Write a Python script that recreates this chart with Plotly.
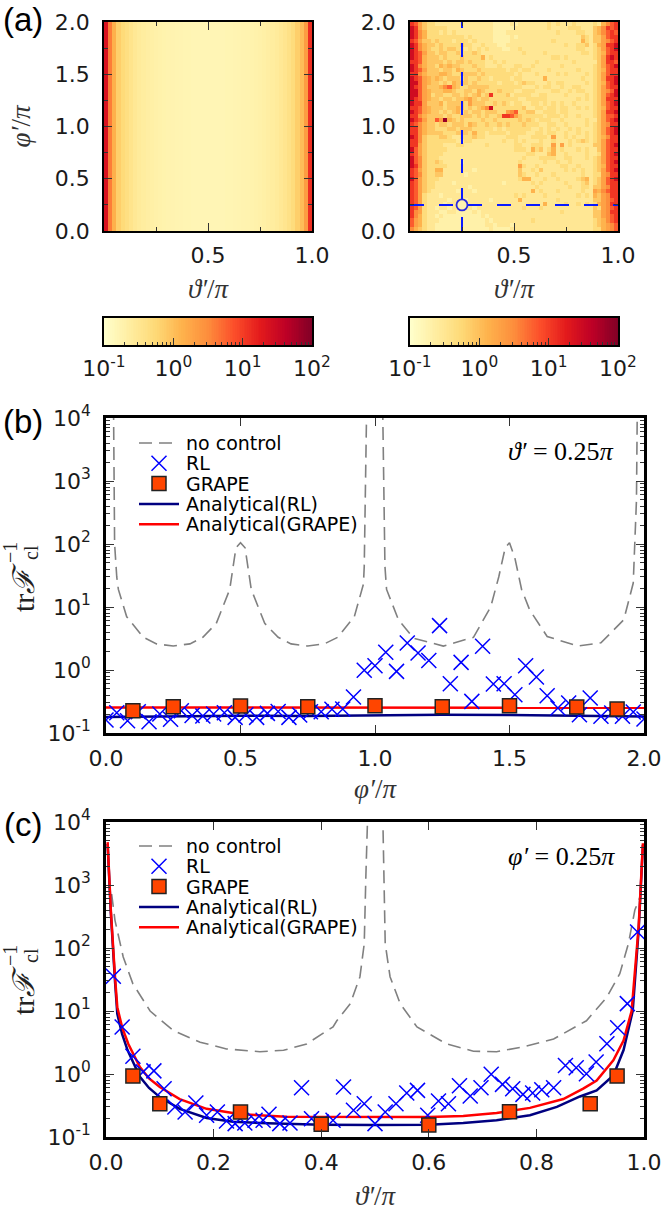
import plotly.graph_objects as go

W, H = 664, 1213

# ---- panel (a): log10 of trF^-1
left_profile = [1.35, 0.6, 0.15, -0.15, -0.28, -0.36, -0.45, -0.53, -0.58, -0.62,
                -0.65, -0.68, -0.7, -0.72, -0.74, -0.75, -0.76, -0.77, -0.78, -0.79,
                -0.79, -0.8, -0.8, -0.8, -0.8, -0.8, -0.8, -0.8, -0.8, -0.79,
                -0.79, -0.78, -0.77, -0.76, -0.75, -0.74, -0.72, -0.7, -0.68, -0.65,
                -0.62, -0.58, -0.53, -0.47, -0.4, -0.3, -0.15, 0.02, 0.35, 1.1]

# one digit per cell, top row is phi'=2, see level_log for the meaning
right_rows = [
    "87532 21111 11111 11111 00001 01111 11121 21112 11112 14678",
    "98532 22221 11111 11111 00000 11111 11121 11122 21113 46878",
    "98642 22121 21111 11111 00011 11111 11111 21111 22113 46787",
    "98642 22222 22212 11111 00001 01111 11111 11111 13213 35788",
    "87533 23222 12221 21111 00001 11111 11112 11111 14213 35678",
    "98643 32322 22322 11211 10011 11111 11111 11211 22312 45889",
    "98643 22323 32212 12121 11001 12111 11111 11111 22112 35789",
    "98753 32332 23222 32111 11111 11211 11211 11111 12212 34788",
    "98743 33232 22322 22412 11111 11111 11112 21211 11112 35898",
    "88743 33323 23323 22211 21211 11111 21111 11112 11111 35887",
    "98643 32434 33222 32211 12111 22112 11111 12111 11112 35789",
    "98753 33233 24322 23222 22212 21221 11121 11111 21112 34788",
    "88643 33443 22333 32322 22222 12111 21111 21211 11212 35788",
    "98754 34323 33232 23221 22221 22111 11411 11111 12112 35889",
    "99754 33232 43332 32222 21222 12322 11121 22111 11212 34789",
    "98753 33467 43223 33332 22222 22111 21221 12112 21112 35788",
    "99754 33344 32233 24322 23222 11222 11112 21121 22112 35679",
    "99754 23322 33232 34238 22231 22221 12211 11211 11212 35789",
    "98754 33233 23345 32332 22222 21122 22211 11111 21212 35888",
    "98853 33423 33325 33322 32321 22112 21212 12112 11112 35789",
    "88754 33323 34323 23469 22222 22311 22122 12211 21212 34788",
    "98754 33232 34232 33233 32256 72233 11222 12211 11112 35889",
    "88643 33323 22333 23232 23887 53222 22122 21211 21112 35778",
    "98753 375a4 32322 22322 32222 23232 12221 12111 11211 35789",
    "87643 32332 33324 32232 23232 22322 21122 11211 11212 35688",
    "88643 32223 32333 22222 12122 22221 12121 21121 21112 35789",
    "88643 33322 23332 42212 22212 22211 22122 11211 21212 35789",
    "98632 22332 11222 32211 11122 21112 22215 11212 11212 34688",
    "88632 22222 21122 11111 11211 21211 12112 11121 23212 35788",
    "88532 22211 12211 11121 11111 22112 22115 15121 11113 35789",
    "97532 22221 11111 11111 11111 22214 23124 12111 21211 35788",
    "87532 22211 11111 11111 11111 11122 11134 11211 11211 25789",
    "97632 22111 11111 11111 11111 11211 12222 11221 11212 35788",
    "97632 23211 11011 11111 11111 12111 11211 21121 11112 35789",
    "98632 22221 11111 11111 11111 15211 21111 12211 21112 34788",
    "87532 24411 11111 01111 11111 13112 13111 11212 12112 35789",
    "87632 23311 11101 11111 11111 13211 21112 11111 12112 25688",
    "97532 22111 11111 11111 11111 12441 11211 21111 23412 35789",
    "87532 21111 01111 11111 11011 11112 12111 11211 12312 35788",
    "87532 21111 11110 11111 11111 11111 21111 11121 12213 35688",
    "87532 11111 10111 01111 11111 11114 12111 21111 12115 46788",
    "87521 11011 11111 11111 11111 21211 11211 11111 21214 35688",
    "87521 11110 11101 11110 11111 14111 11111 21111 11113 35678",
    "87521 11101 11111 11111 11111 11111 11411 11211 21212 45688",
    "87521 10110 11011 01111 11111 11211 12111 11111 11113 25678",
    "86521 11001 10000 10111 11111 11111 11111 12111 11113 35688",
    "86421 10100 00000 00101 11111 11111 11111 11111 11113 35678",
    "75421 11000 00000 00010 11111 11112 11111 11111 11112 34678",
    "75421 10000 00000 00011 01110 11111 11111 11111 11112 34567",
    "64321 10000 00000 00001 00001 11111 11111 11111 11112 24567",
]
level_log = [-0.7, -0.52, -0.3, -0.08, 0.12, 0.3, 0.5, 0.8, 1.05, 1.45, 1.85]

guide_at = [0.25]

# ---- panel (b)
b_nc_x = [0.028, 0.03, 0.032, 0.04, 0.046, 0.077, 0.139, 0.188, 0.25, 0.312, 0.36, 0.41, 0.46, 0.483, 0.5,
          0.517, 0.54, 0.59, 0.64, 0.688, 0.75, 0.812, 0.861, 0.923, 0.957, 0.96, 0.966, 0.969, None,
          1.0285, 1.032, 1.037, 1.043, 1.087, 1.143, 1.254, 1.366, 1.43, 1.46, 1.484, 1.5,
          1.52, 1.545, 1.575, 1.64, 1.755, 1.84, 1.925, 1.96, 1.972, 1.975]
b_nc_y = [15000, 1000, 100, 30, 19, 7, 3.3, 2.6, 2.4, 2.6, 3.3, 5.5, 19, 87, 105,
          87, 19, 5.5, 3.3, 2.6, 2.4, 2.6, 3.3, 7, 23, 44, 1000, 15000, None,
          15000, 1000, 44, 19, 6.3, 3.2, 2.4, 3.3, 10, 30, 87, 105,
          60, 19, 9, 3.4, 2.4, 2.7, 6.3, 24, 500, 14000]

b_rl_x = [0.0, 0.04, 0.08, 0.12, 0.16, 0.2, 0.24, 0.28, 0.32, 0.36, 0.4, 0.44, 0.48, 0.52, 0.56,
          0.6, 0.64, 0.68, 0.72, 0.76, 0.8, 0.84, 0.88, 0.92, 0.96, 1.0, 1.04, 1.08, 1.12, 1.16,
          1.2, 1.24, 1.28, 1.32, 1.36, 1.4, 1.44, 1.48, 1.52, 1.56, 1.6, 1.64, 1.68, 1.72, 1.76,
          1.8, 1.84, 1.88, 1.92, 1.96, 2.0]
b_rl_y = [0.161, 0.21, 0.157, 0.218, 0.151, 0.2, 0.165, 0.226, 0.19, 0.186, 0.2, 0.21, 0.177, 0.195, 0.177,
          0.205, 0.22, 0.177, 0.193, 0.218, 0.218, 0.238, 0.24, 0.372, 0.99, 1.17, 1.91, 0.95, 2.69, 1.86,
          1.42, 5.06, 0.607, 1.32, 0.318, 2.38, 0.6, 0.607, 0.406, 1.17, 0.774, 0.39, 0.25, 0.3, 0.195,
          0.36, 0.184, 0.207, 0.184, 0.215, 0.167]

b_grape_x = [0.1, 0.25, 0.5, 0.75, 1.0, 1.25, 1.5, 1.75, 1.9]
b_grape_y = [0.226, 0.262, 0.268, 0.262, 0.27, 0.262, 0.27, 0.259, 0.24]

b_line_x = [0.0, 0.25, 0.5, 0.75, 1.0, 1.25, 1.5, 1.75, 2.0]
b_ana_rl = [0.18, 0.186, 0.188, 0.186, 0.19, 0.195, 0.193, 0.187, 0.183]
b_ana_grape = [0.255, 0.255, 0.252, 0.25, 0.252, 0.255, 0.252, 0.25, 0.252]

# ---- panel (c)
c_nc_x = [0.0105, 0.0167, 0.032, 0.05, 0.082, 0.125, 0.175, 0.224, 0.286, 0.33, 0.373, 0.422, 0.429, 0.454,
          0.472, 0.48, 0.483, 0.486, None, 0.515, 0.519, 0.528, 0.547, 0.578, 0.633, 0.683, 0.726, 0.776,
          0.832, 0.893, 0.931, 0.955, 0.971, 0.983, 0.992]
c_nc_y = [720, 275, 72, 27, 10, 4.9, 3.2, 2.5, 2.26, 2.38, 3.0, 5.6, 7, 13,
          35, 117, 1350, 10000, None, 7400, 117, 35, 13, 5.6, 3.0, 2.3, 2.26, 2.7,
          3.6, 7, 16.6, 39, 117, 400, 630]

c_rl_x = [0.0136, 0.03, 0.05, 0.069, 0.089, 0.108, 0.128, 0.147, 0.167, 0.187, 0.207, 0.224, 0.24, 0.258,
          0.277, 0.292, 0.303, 0.323, 0.342, 0.3635, 0.382, 0.40, 0.422, 0.4415, 0.46, 0.48, 0.5, 0.519,
          0.539, 0.559, 0.579, 0.598, 0.618, 0.6365, 0.657, 0.677, 0.697, 0.716, 0.737, 0.756, 0.775, 0.793,
          0.81, 0.832, 0.854, 0.874, 0.893, 0.911, 0.931, 0.951, 0.969, 0.988]
c_rl_y = [35.5, 5.57, 1.91, 1.08, 1.12, 0.585, 0.3, 0.249, 0.347, 0.221, 0.249, 0.179, 0.163, 0.167,
          0.184, 0.184, 0.229, 0.163, 0.167, 0.607, 0.195, 0.173, 0.184, 0.622, 0.265, 0.338, 0.163, 0.249,
          0.338, 0.5, 0.55, 0.221, 0.373, 0.338, 0.653, 0.448, 0.607, 0.989, 0.685, 0.585, 0.475, 0.5,
          0.564, 0.607, 1.36, 1.26, 1.01, 1.55, 3.03, 5.43, 13.1, 179]

c_grape_x = [0.05, 0.1, 0.25, 0.4, 0.6, 0.75, 0.9, 0.95]
c_grape_y = [0.93, 0.338, 0.249, 0.159, 0.155, 0.252, 0.338, 0.93]

c_red_x = [0.003, 0.009, 0.0167, 0.021, 0.03, 0.0415, 0.063, 0.08, 0.1, 0.137, 0.187, 0.25, 0.335, 0.42, 0.5, 0.6,
           0.664, 0.726, 0.788, 0.85, 0.887, 0.912, 0.943, 0.962, 0.977, 0.99, 0.998]
c_red_y = [4800, 400, 35, 11.5, 5.5, 3, 1.29, 0.85, 0.62, 0.4, 0.28, 0.23, 0.21, 0.208, 0.205, 0.208,
           0.215, 0.24, 0.29, 0.4, 0.585, 0.79, 1.65, 3.4, 10, 215, 4600]
c_navy_x = [0.003, 0.009, 0.0167, 0.021, 0.03, 0.04, 0.063, 0.08, 0.1, 0.137, 0.187, 0.236, 0.3, 0.4, 0.5, 0.6,
            0.664, 0.726, 0.788, 0.838, 0.881, 0.912, 0.943, 0.962, 0.979, 0.99, 0.998]
c_navy_y = [4500, 360, 30, 9, 4.3, 2.4, 0.9, 0.6, 0.43, 0.28, 0.2, 0.175, 0.165, 0.157, 0.155, 0.157,
            0.167, 0.184, 0.221, 0.3, 0.44, 0.55, 0.95, 2.4, 10, 190, 4300]

cbar_major = [-1, 0, 1, 2]
cbar_major_text = ["10<sup>-1</sup>", "10<sup>0</sup>", "10<sup>1</sup>", "10<sup>2</sup>"]
cbar_minor = [-0.699, -0.523, -0.398, -0.301, -0.222, -0.155, -0.097, -0.046,
              0.301, 0.477, 0.602, 0.699, 0.778, 0.845, 0.903, 0.954,
              1.301, 1.477, 1.602, 1.699, 1.778, 1.845, 1.903, 1.954]

log_major = [0.1, 1, 10, 100, 1000, 10000]
log_major_text = ["10<sup>-1</sup>", "10<sup>0</sup>", "10<sup>1</sup>", "10<sup>2</sup>", "10<sup>3</sup>", "10<sup>4</sup>"]
log_minor = [m * d for d in [0.1, 1, 10, 100, 1000] for m in [2, 3, 4, 5, 6, 7, 8, 9]]

legend_names = ["no control", "RL", "GRAPE", "Analytical(RL)", "Analytical(GRAPE)"]

ylorrd = [[0.0, "#ffffcc"], [0.125, "#ffeda0"], [0.25, "#fed976"], [0.375, "#feb24c"], [0.5, "#fd8d3c"],
          [0.625, "#fc4e2a"], [0.75, "#e31a1c"], [0.875, "#bd0026"], [1.0, "#800026"]]

SANS = "DejaVu Sans"
SERIF = "Liberation Serif"
TICK = "#1a1a1a"

nc_line = dict(color="#808080", width=1.6, dash="13px,7px")
navy_line = dict(color="#000080", width=2.5)
red_line = dict(color="#ff0000", width=2.5)
rl_marker = dict(symbol="x-thin", size=15, color="#0000ff", line=dict(color="#0000ff", width=1.5))
grape_marker = dict(symbol="square", size=14, color="#ff4500", line=dict(color="#222222", width=1.5))


def dom_x(a, b):
    return [a / W, b / W]


def dom_y(top, bottom):
    return [1 - bottom / H, 1 - top / H]


fig = go.Figure()

col_x = [(i + 0.5) / 50 for i in range(50)]
row_y = [2 - (i + 0.5) * 0.04 for i in range(50)]

fig.add_trace(go.Heatmap(z=[left_profile, left_profile], x=col_x, y=[0.5, 1.5], zmin=-1, zmax=2,
                         colorscale=ylorrd, showscale=False, xaxis="x", yaxis="y"))

right_z = [[level_log[int(c, 16)] for c in r.replace(" ", "")] for r in right_rows]
fig.add_trace(go.Heatmap(z=right_z, x=col_x, y=row_y, zmin=-1, zmax=2,
                         colorscale=ylorrd, showscale=False, xaxis="x2", yaxis="y2"))

guide = dict(color="#0a1aff", width=2, dash="14px,15px")
fig.add_trace(go.Scatter(x=[0, 1], y=guide_at * 2, mode="lines", line=guide, xaxis="x2", yaxis="y2"))
fig.add_trace(go.Scatter(x=guide_at * 2, y=[0, 2], mode="lines", line=guide, xaxis="x2", yaxis="y2"))
fig.add_trace(go.Scatter(x=guide_at, y=guide_at, mode="markers", xaxis="x2", yaxis="y2",
                         marker=dict(symbol="circle", size=11, color="#fff3b0", line=dict(color="#2a2ae0", width=1.8))))

# colour bars are drawn as their own little axes so major and minor ticks can differ
cbar_ramp = [i * 0.025 - 1 for i in range(121)]
for xa, ya in [("x5", "y5"), ("x6", "y6")]:
    fig.add_trace(go.Heatmap(z=[cbar_ramp], x=cbar_ramp, y=[0.5], zmin=-1, zmax=2, colorscale=ylorrd,
                             showscale=False, xaxis=xa, yaxis=ya))


def add_panel(xa, ya, nc, rl, grape, navy, red):
    shared = dict(xaxis=xa, yaxis=ya)
    fig.add_trace(go.Scatter(x=nc[0], y=nc[1], mode="lines", name=legend_names[0], line=nc_line, **shared))
    fig.add_trace(go.Scatter(x=navy[0], y=navy[1], mode="lines", name=legend_names[3], line=navy_line, **shared))
    fig.add_trace(go.Scatter(x=red[0], y=red[1], mode="lines", name=legend_names[4], line=red_line, **shared))
    fig.add_trace(go.Scatter(x=rl[0], y=rl[1], mode="markers", name=legend_names[1], marker=rl_marker, **shared))
    fig.add_trace(go.Scatter(x=grape[0], y=grape[1], mode="markers", name=legend_names[2], marker=grape_marker, **shared))


add_panel("x3", "y3", (b_nc_x, b_nc_y), (b_rl_x, b_rl_y), (b_grape_x, b_grape_y),
          (b_line_x, b_ana_rl), (b_line_x, b_ana_grape))
add_panel("x4", "y4", (c_nc_x, c_nc_y), (c_rl_x, c_rl_y), (c_grape_x, c_grape_y),
          (c_navy_x, c_navy_y), (c_red_x, c_red_y))


def map_axis(domain, rng, major, text, minor, title=None, anchor=None, width=1.6, gap=4, title_gap=12):
    ax = dict(domain=domain, range=rng, anchor=anchor, showgrid=False, zeroline=False, showline=True, linecolor="black",
              linewidth=width, mirror="ticks", ticks="inside", ticklen=8, tickwidth=1, tickcolor="#333333",
              tickmode="array", tickvals=major, ticktext=text, ticklabelstandoff=gap,
              tickfont=dict(family=SANS, size=22, color=TICK),
              minor=dict(ticks="inside", ticklen=4, tickvals=minor, tickcolor="#333333", showgrid=False))
    if title:
        ax["title"] = dict(text=title, font=dict(family=SERIF, size=27, color="#333333"), standoff=title_gap)
    return ax


a_x_major = [0.5, 1.0]
a_y_major = [0.0, 0.5, 1.0, 1.5, 2.0]
fmt = lambda vals: ["%.1f" % v for v in vals]
theta_t = "<i>ϑ′</i>/<i>π</i>"
phi_t = "<i>φ′</i>/<i>π</i>"

fig.update_layout(
    xaxis=map_axis(dom_x(104, 312), [0, 1], a_x_major, fmt(a_x_major), [0.25, 0.75], theta_t, "y"),
    yaxis=map_axis(dom_y(22, 231), [0, 2], a_y_major, fmt(a_y_major), [0.25, 0.75, 1.25, 1.75], phi_t, "x", gap=8, title_gap=16),
    xaxis2=map_axis(dom_x(410, 618), [0, 1], a_x_major, fmt(a_x_major), [0.25, 0.75], theta_t, "y2"),
    yaxis2=map_axis(dom_y(22, 231), [0, 2], a_y_major, fmt(a_y_major), [0.25, 0.75, 1.25, 1.75], None, "x2", gap=8),
)

b_x_major = [0.0, 0.5, 1.0, 1.5, 2.0]
c_x_major = [0.0, 0.2, 0.4, 0.6, 0.8, 1.0]


def log_axis(domain, anchor):
    ax = map_axis(domain, [-1, 4], log_major, log_major_text, log_minor, None, anchor, 2.5, gap=8)
    ax["type"] = "log"
    return ax


def cbar_axes(left):
    xa = map_axis(dom_x(left, left + 208), [-1, 2], cbar_major, cbar_major_text, cbar_minor, None, None, 2, gap=3)
    xa["mirror"] = True
    xa["ticklen"] = 7
    xa["minor"]["ticklen"] = 3
    ya = dict(domain=dom_y(318, 345), range=[0, 1], showgrid=False, zeroline=False, showline=True, linecolor="black",
              linewidth=2, mirror=True, ticks="", showticklabels=False)
    return xa, ya


cb1_x, cb1_y = cbar_axes(104)
cb2_x, cb2_y = cbar_axes(410)
cb1_x["anchor"], cb1_y["anchor"] = "y5", "x5"
cb2_x["anchor"], cb2_y["anchor"] = "y6", "x6"

fig.update_layout(
    xaxis3=map_axis(dom_x(106, 644), [0, 2], b_x_major, fmt(b_x_major), [], phi_t, "y3", 2.5, title_gap=9),
    yaxis3=log_axis(dom_y(418, 733), "x3"),
    xaxis4=map_axis(dom_x(106, 644), [0, 1], c_x_major, fmt(c_x_major), [], theta_t, "y4", 2.5),
    yaxis4=log_axis(dom_y(822, 1137), "x4"),
    xaxis5=cb1_x, yaxis5=cb1_y, xaxis6=cb2_x, yaxis6=cb2_y,
    # page-sized axes in pixels, only for the legend keys
    xaxis7=dict(domain=[0, 1], range=[0, W], visible=False, anchor="y7", fixedrange=True),
    yaxis7=dict(domain=[0, 1], range=[H, 0], visible=False, anchor="x7", fixedrange=True),
)


def note(text, x, y, size=18, family=SANS, angle=0, color="black", anchor="center"):
    fig.add_annotation(text=text, xref="paper", yref="paper", x=x / W, y=1 - y / H, showarrow=False,
                       xanchor=anchor, yanchor="middle", textangle=angle, xshift=0,
                       font=dict(family=family, size=size, color=color))


note("(a)", 23, 19, 33, "Liberation Sans")
note("(b)", 23, 421, 33, "Liberation Sans")
note("(c)", 23, 824, 33, "Liberation Sans")
note("<i>ϑ′</i> = 0.25<i>π</i>", 561, 451, 26, SERIF)
note("<i>φ′</i> = 0.25<i>π</i>", 561, 856, 26, SERIF)

for cy in [576, 979]:
    note("tr<i>ℱ</i>", 23, cy + 12, 30, SERIF, -90, "#222222")
    note("−1", 10, cy - 23, 20, SERIF, -90, "#222222")
    note("cl", 31, cy - 23, 20, SERIF, -90, "#222222")

# legends: rows sit closer together than plotly's own legend allows at this font size
for first_row in [443, 846]:
    rows = [first_row + i * 20.3 for i in range(5)]
    keys = [("lines", nc_line, None), ("markers", None, rl_marker), ("markers", None, grape_marker),
            ("lines", navy_line, None), ("lines", red_line, None)]
    for name, row, (mode, line, marker) in zip(legend_names, rows, keys):
        kx = [139, 179] if mode == "lines" else [159]
        ky = [row] * len(kx)
        fig.add_trace(go.Scatter(x=kx, y=ky, mode=mode, line=line, marker=marker, xaxis="x7", yaxis="y7"))
        note(name, 184, row, 19, SANS, anchor="left")

fig.update_layout(width=W, height=H, margin=dict(l=0, r=0, t=0, b=0, autoexpand=False), paper_bgcolor="white",
                  plot_bgcolor="rgba(0,0,0,0)", showlegend=False)

fig.write_html("out.html", config=dict(displayModeBar=False), post_script="document.body.style.margin='0';")
